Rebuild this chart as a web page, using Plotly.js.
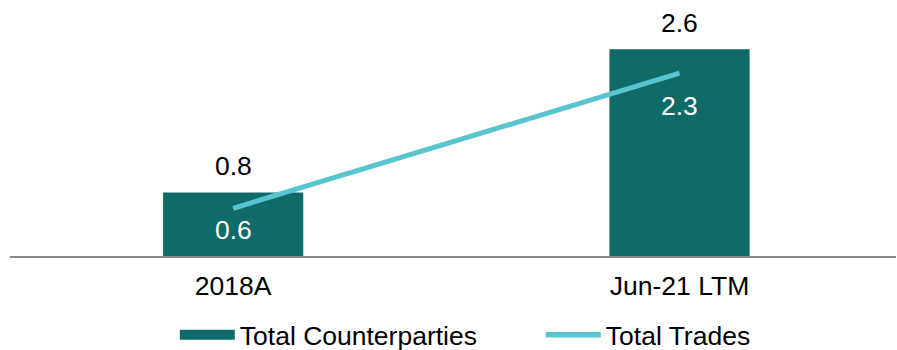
<!DOCTYPE html>
<html>
<head>
<meta charset="utf-8">
<script src="https://cdn.plot.ly/plotly-3.0.1.min.js"></script>
<style>html,body{margin:0;padding:0;background:#fff;}#chart{width:897px;height:350px;}</style>
</head>
<body>
<div id="chart"></div>
<script>
var categories = ["2018A", "Jun-21 LTM"];
var counterparties = [0.8, 2.6];
var trades = [0.6, 2.3];

var barColor = "#0e6b67";
var lineColor = "#56c5cf";
var fontFam = "Liberation Sans, Arial, sans-serif";
var fs = 26.5;
var lineLabelShift = [-22, -33];

var traces = [
  {
    type: "bar", x: categories, y: counterparties, name: "Total Counterparties",
    marker: {color: barColor}, showlegend: false, hoverinfo: "skip"
  },
  {
    type: "scatter", mode: "lines", x: categories, y: trades, name: "Total Trades",
    line: {color: lineColor, width: 5}, showlegend: false, hoverinfo: "skip"
  },
  {
    type: "scatter", mode: "lines", x: [null], y: [null], name: "Total Counterparties",
    line: {color: barColor, width: 12}, showlegend: true
  },
  {
    type: "scatter", mode: "lines", x: [null], y: [null], name: "Total Trades",
    line: {color: lineColor, width: 5.5}, showlegend: true
  }
];

var annotations = [];
categories.forEach(function (c, i) {
  annotations.push({
    x: c, y: counterparties[i], xref: "x", yref: "y", text: counterparties[i].toFixed(1),
    showarrow: false, yanchor: "middle", yshift: 26,
    font: {family: fontFam, size: fs, color: "#000"}
  });
  annotations.push({
    x: c, y: trades[i], xref: "x", yref: "y", text: trades[i].toFixed(1),
    showarrow: false, yanchor: "middle", yshift: lineLabelShift[i],
    font: {family: fontFam, size: fs, color: "#fff"}
  });
});

var layout = {
  width: 897, height: 350,
  margin: {l: 10, r: 1, t: 10, b: 94, autoexpand: false},
  paper_bgcolor: "#fff", plot_bgcolor: "#fff",
  font: {family: fontFam, size: fs, color: "#000"},
  bargap: 0.686,
  xaxis: {
    type: "category", range: [-0.5, 1.485], showgrid: false, zeroline: false,
    showline: true, linecolor: "#898989", linewidth: 2, ticks: "", automargin: false,
    ticklabelstandoff: 5, tickfont: {family: fontFam, size: fs, color: "#000"}, fixedrange: true
  },
  yaxis: {range: [0, 3.094], visible: false, showgrid: false, zeroline: false, fixedrange: true, automargin: false},
  showlegend: true,
  legend: {
    orientation: "h", x: 0.186, xanchor: "left", y: -0.321, yanchor: "middle",
    font: {family: fontFam, size: fs, color: "#000"}, itemwidth: 55, entrywidth: 296,
    tracegroupgap: 0, bgcolor: "rgba(0,0,0,0)"
  },
  annotations: annotations
};

Plotly.newPlot("chart", traces, layout, {displayModeBar: false, staticPlot: true});
</script>
</body>
</html>
